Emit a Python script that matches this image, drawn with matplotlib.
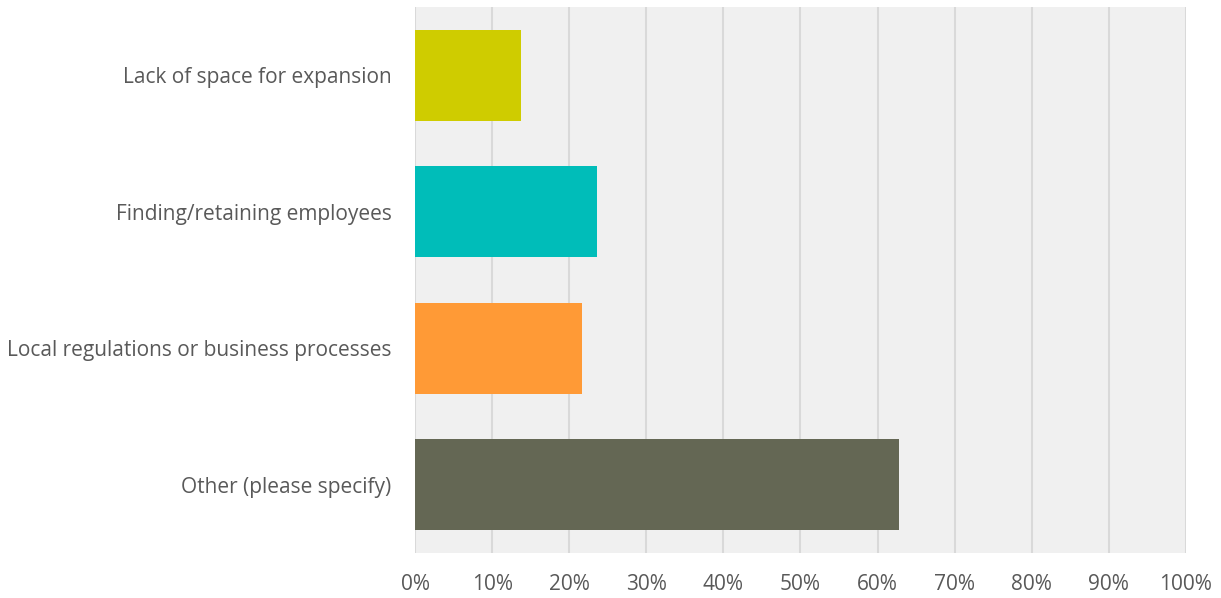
import matplotlib
matplotlib.use('Agg')

import matplotlib.pyplot as plt
from matplotlib.ticker import PercentFormatter

# Survey responses (share of respondents)
categories = ['Lack of space for expansion', 'Finding/retaining employees',
              'Local regulations or business processes', 'Other (please specify)']
shares = [13.8, 23.6, 21.7, 62.8]
colours = ['#CFCC00', '#00BDB9', '#FF9A36', '#646754']
ticks = list(range(0, 101, 10))

plt.rcParams['font.family'] = ['Open Sans', 'DejaVu Sans']

fig = plt.figure(figsize=(12.21, 5.98), dpi=100)
ax = fig.add_axes([0.3399, 0.0753, 0.6314, 0.913])

pos = list(range(len(categories)))[::-1]
ax.barh(pos, shares, height=0.667, color=colours, zorder=3)

ax.set_facecolor('#F0F0F0')
ax.set_xlim(0, 100)
ax.set_ylim(-0.5, len(categories) - 0.5)
ax.set_xticks(ticks)
ax.xaxis.set_major_formatter(PercentFormatter(decimals=0))
ax.set_yticks(pos)
ax.set_yticklabels(categories)

ax.grid(axis='x', color='#D9D9D9', linewidth=1.5, zorder=1)
ax.set_axisbelow(True)
for s in ax.spines.values():
    s.set_visible(False)

ax.tick_params(axis='both', length=0, labelsize=15, colors='#595959')
ax.tick_params(axis='x', pad=15)
ax.tick_params(axis='y', pad=17)

plt.savefig('out.png', dpi=100)
plt.close(fig)
